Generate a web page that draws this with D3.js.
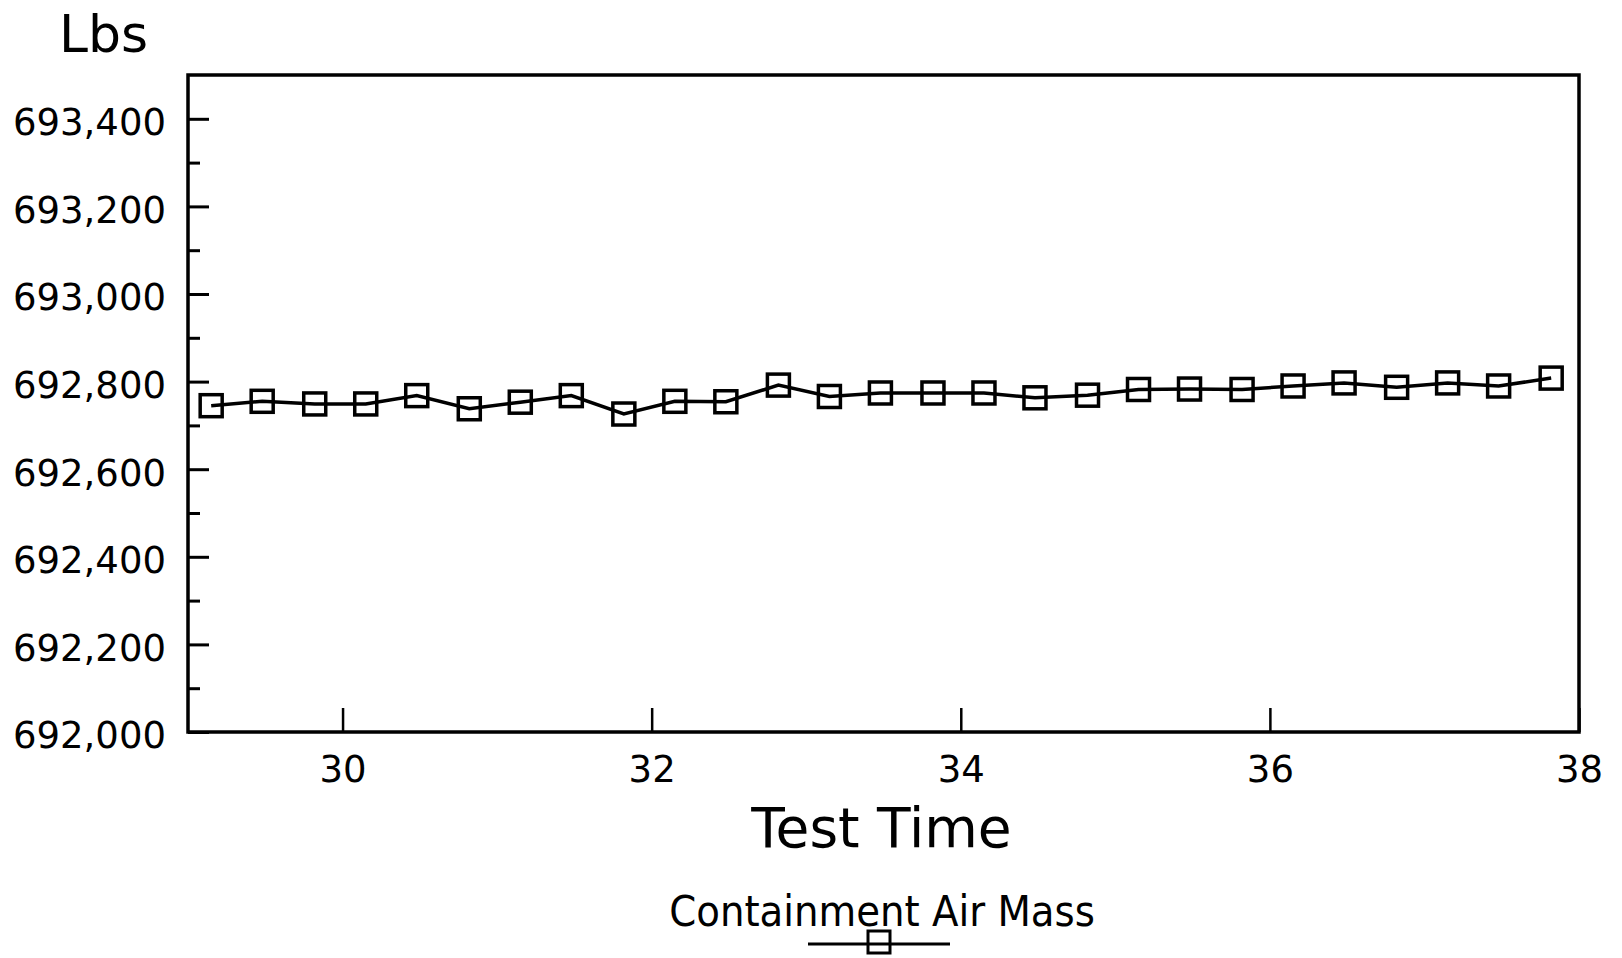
<!DOCTYPE html>
<html>
<head>
<meta charset="utf-8">
<title>Containment Air Mass</title>
<script src="https://cdn.jsdelivr.net/npm/d3@7"></script>
<style>
  body { margin: 0; background: #fff; }
  svg { display: block; }
</style>
</head>
<body>
<svg id="grafico" width="1622" height="958"></svg>
<script>
/* datos */
const tiempos = [29.15, 29.48, 29.82, 30.15, 30.48, 30.82, 31.15, 31.48, 31.82,
    32.15, 32.48, 32.82, 33.15, 33.48, 33.82, 34.15, 34.48, 34.82,
    35.15, 35.48, 35.82, 36.15, 36.48, 36.82, 37.15, 37.48, 37.82]
const masaAire = [692745, 692755, 692749, 692749, 692768, 692738, 692753, 692768, 692726,
    692755, 692754, 692792, 692766, 692774, 692774, 692774, 692763, 692769,
    692782, 692783, 692782, 692790, 692797, 692787, 692797, 692790, 692808]

const ticksY = [692000, 692200, 692400, 692600, 692800, 693000, 693200, 693400]
const ticksYMenores = [692100, 692300, 692500, 692700, 692900, 693100, 693300]
const ticksX = [30, 32, 34, 36, 38]

const tituloY = 'Lbs'
const tituloX = 'Test Time'
const nombreSerie = 'Containment Air Mass'

/* caja del grafico */
const izq = 188, der = 1579, arriba = 75, abajo = 732

const svg = d3.select('#grafico')

const x = d3.scaleLinear().domain([29, 38]).range([izq, der])
const y = d3.scaleLinear().domain([692000, 693500]).range([abajo, arriba])

const fuente = 'DejaVu Sans, sans-serif'

// eje Y, ticks grandes con etiqueta
const ejeY = svg.append('g')
    .attr('transform', `translate(${izq},0)`)
    .call(d3.axisLeft(y).tickValues(ticksY).tickSize(-21).tickPadding(22).tickFormat(d3.format(',')))
ejeY.select('.domain').remove()
ejeY.selectAll('line').attr('stroke', '#000').attr('stroke-width', 3)
ejeY.selectAll('text')
    .attr('dy', '0.43em')
    .style('font-family', fuente)
    .style('font-size', '37px')
    .attr('fill', '#000')

// ticks pequeños del eje Y
const ejeYMenor = svg.append('g')
    .attr('transform', `translate(${izq},0)`)
    .call(d3.axisLeft(y).tickValues(ticksYMenores).tickSize(-12).tickFormat(''))
ejeYMenor.select('.domain').remove()
ejeYMenor.selectAll('line').attr('stroke', '#000').attr('stroke-width', 3)

// eje X
const ejeX = svg.append('g')
    .attr('transform', `translate(0,${abajo})`)
    .call(d3.axisBottom(x).tickValues(ticksX).tickSize(-24).tickPadding(24))
ejeX.select('.domain').remove()
ejeX.selectAll('line').attr('stroke', '#000').attr('stroke-width', 2.5)
ejeX.selectAll('text')
    .style('font-family', fuente)
    .style('font-size', '37px')
    .attr('fill', '#000')

// marco
svg.append('rect')
    .attr('x', izq).attr('y', arriba)
    .attr('width', der - izq).attr('height', abajo - arriba)
    .attr('fill', 'none').attr('stroke', '#000').attr('stroke-width', 3.5)

// titulos
svg.append('text')
    .attr('x', 59).attr('y', 52)
    .style('font-family', fuente).style('font-size', '52px')
    .text(tituloY)

svg.append('text')
    .attr('x', (izq + der) / 2 - 2).attr('y', 847)
    .attr('text-anchor', 'middle')
    .style('font-family', fuente).style('font-size', '55px')
    .text(tituloX)

// serie
const puntos = tiempos.map((t, i) => ({ t: t, v: masaAire[i] }))
const linea = d3.line().x(d => x(d.t)).y(d => y(d.v))

svg.append('path')
    .datum(puntos)
    .attr('d', linea)
    .attr('fill', 'none').attr('stroke', '#000').attr('stroke-width', 3.5)

const lado = 22
svg.append('g').selectAll('rect')
    .data(puntos)
    .enter().append('rect')
    .attr('x', d => x(d.t) - lado / 2)
    .attr('y', d => y(d.v) - lado / 2)
    .attr('width', lado).attr('height', lado)
    .attr('fill', 'none').attr('stroke', '#000').attr('stroke-width', 3.5)

// leyenda
svg.append('text')
    .attr('x', 882).attr('y', 926)
    .attr('text-anchor', 'middle')
    .style('font-family', 'DejaVu Sans Condensed, DejaVu Sans, sans-serif').style('font-size', '43px')
    .text(nombreSerie)

svg.append('line')
    .attr('x1', 808).attr('x2', 950).attr('y1', 944).attr('y2', 944)
    .attr('stroke', '#000').attr('stroke-width', 3)
svg.append('rect')
    .attr('x', 879 - lado / 2).attr('y', 942 - lado / 2)
    .attr('width', lado).attr('height', lado)
    .attr('fill', 'none').attr('stroke', '#000').attr('stroke-width', 3)
</script>
</body>
</html>
